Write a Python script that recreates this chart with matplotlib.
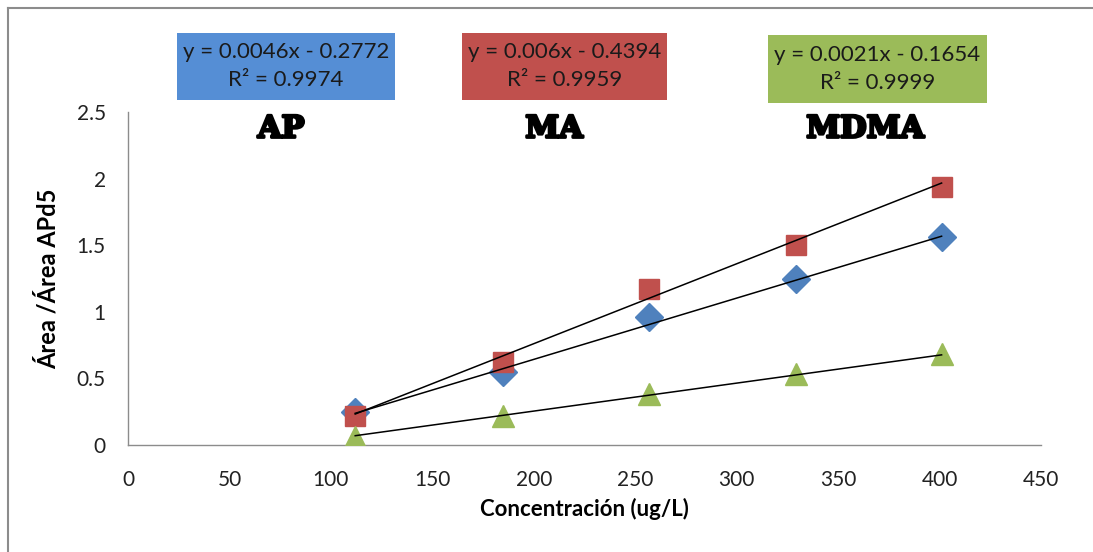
import numpy as np
import matplotlib
matplotlib.use("Agg")
import matplotlib.pyplot as plt
import matplotlib.patheffects as pe
from matplotlib.lines import Line2D
from matplotlib.patches import Rectangle

# concentraciones (ug/L)
conc = [112, 185, 257, 329, 401]

# area ratio per analyte
ap = [0.25, 0.55, 0.96, 1.25, 1.56]
ma = [0.22, 0.62, 1.17, 1.50, 1.94]
mdma = [0.06, 0.22, 0.38, 0.53, 0.68]

names = ["AP", "MA", "MDMA"]
slopes = [0.0046, 0.006, 0.0021]
intercepts = [-0.2772, -0.4394, -0.1654]
r2 = ["0.9974", "0.9959", "0.9999"]

marker_cols = ["#4F81BD", "#C0504D", "#9BBB59"]
box_cols = ["#558ED5", "#C0504D", "#9BBB59"]
markers = ["D", "s", "^"]
msizes = [14, 14, 16]

plt.rcParams['font.family'] = ['Lato', 'DejaVu Sans']

W, H = 1093, 552
fig = plt.figure(figsize=(W/100, H/100), dpi=100)
ax = fig.add_axes([128/W, 1-445/H, 913/W, 333/H])

series = [ap, ma, mdma]
x = np.array(conc)
for k in range(3):
    ax.plot(x, series[k], linestyle="none", marker=markers[k], ms=msizes[k],
            color=marker_cols[k], markeredgecolor=marker_cols[k], zorder=3)
for k in range(3):
    xl = np.array([x.min(), x.max()])
    ax.plot(xl, slopes[k]*xl + intercepts[k], color="black", lw=1.1, zorder=4)

ax.set_xlim(0, 450)
ax.set_ylim(0, 2.5)
ax.set_xticks(np.arange(0, 451, 50))
ax.set_yticks([0, 0.5, 1, 1.5, 2, 2.5])
ax.set_yticklabels(["0", "0.5", "1", "1.5", "2", "2.5"])
ax.tick_params(axis="both", length=0, labelsize=15, colors="#222222")
ax.tick_params(axis="y", pad=16)
ax.tick_params(axis="x", pad=18)
for s in ["top", "right"]:
    ax.spines[s].set_visible(False)
for s in ["left", "bottom"]:
    ax.spines[s].set_color("#8C8C8C")
    ax.spines[s].set_linewidth(1.0)

ax.set_xlabel("Concentración (ug/L)", fontsize=16, fontweight="bold", labelpad=6)
ax.set_ylabel("Área /Área APd5", fontsize=17, fontweight="bold", labelpad=12)

# equation boxes (pixel extents) and analyte names
box_l = [177, 462, 768]
box_r = [395, 667, 987]
box_t = [33, 33, 35]
box_b = [100, 100, 103]
name_x = [281, 554, 865]
name_y = 129
for k in range(3):
    fig.add_artist(Rectangle((box_l[k]/W, 1-box_b[k]/H), (box_r[k]-box_l[k])/W,
                             (box_b[k]-box_t[k])/H, transform=fig.transFigure,
                             fc=box_cols[k], ec="none"))
    sign = "-" if intercepts[k] < 0 else "+"
    txt = "y = {}x {} {:.4f}\nR² = {}".format(slopes[k], sign, abs(intercepts[k]), r2[k])
    cx = (box_l[k] + box_r[k]) / 2
    cy = (box_t[k] + box_b[k]) / 2
    fig.text(cx/W, 1-cy/H, txt, ha="center", va="center", fontsize=16,
             color="#1A1A1A", linespacing=1.5)
    fig.text(name_x[k]/W, 1-name_y/H, names[k], ha="center", va="center",
             fontsize=22, fontweight="heavy", family="DejaVu Serif", color="black",
             path_effects=[pe.withStroke(linewidth=2, foreground="black")])

# chart border
fig.add_artist(Line2D([8/W, 8/W], [0, 1-8/H], color="#8C8C8C", lw=1.5))
fig.add_artist(Line2D([8/W, 1], [1-8/H, 1-8/H], color="#8C8C8C", lw=1.5))

fig.savefig("out.png", dpi=100)
